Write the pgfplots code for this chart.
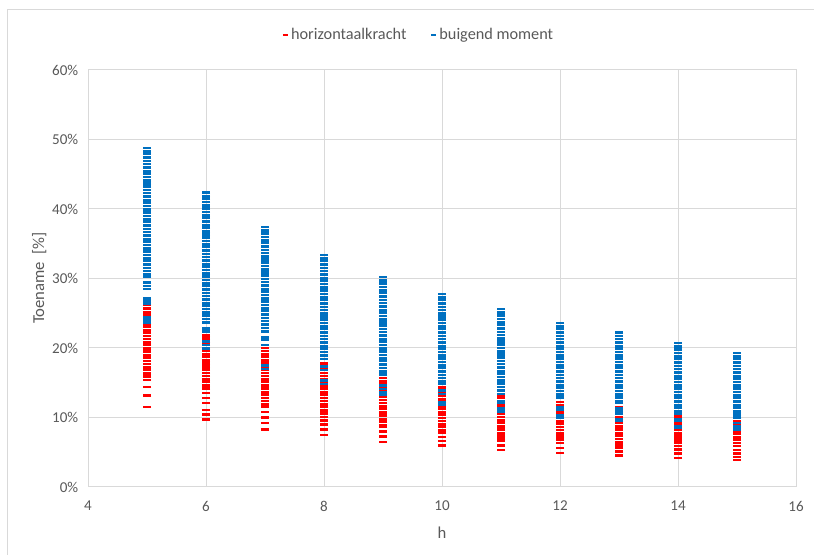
\documentclass[border=0pt]{standalone}
\usepackage{fontspec}
\setmainfont{Carlito}
\usepackage{pgfplots}
\pgfplotsset{compat=1.18}
\definecolor{txt}{HTML}{595959}
\definecolor{gridc}{HTML}{D9D9D9}
\definecolor{bl}{HTML}{0070C0}
\definecolor{rd}{HTML}{FF0000}
\begin{document}
\begin{tikzpicture}
\useasboundingbox (0,0) rectangle (610.5pt,416.25pt);
\draw[gridc, line width=0.75pt] (5.25pt,-10pt) -- (5.25pt,408.75pt) -- (620pt,408.75pt);
\begin{axis}[
  at={(66pt,51pt)}, anchor=south west, scale only axis,
  width=531pt, height=312.75pt,
  xmin=4, xmax=16, ymin=0, ymax=60,
  xtick={4,6,...,16}, ytick={0,10,...,60},
  yticklabel={\pgfmathprintnumber{\tick}\%},
  /pgf/number format/assume math mode=true,
  grid=major, grid style={gridc, line width=0.75pt},
  axis line style={gridc, line width=0.75pt},
  tick style={draw=none},
  ticklabel style={font=\fontsize{11.3}{13}\selectfont, text=txt},
  xticklabel style={yshift=-7pt},
  yticklabel style={xshift=-3.8pt},
  xlabel={h}, ylabel={Toename\ \ [\%]},
  label style={font=\fontsize{12.5}{14}\selectfont, text=txt},
  xlabel style={at={(axis description cs:0.5,-0.110)}, anchor=center},
  ylabel style={at={(axis description cs:-0.069,0.501)}, anchor=center},
  legend style={at={(axis description cs:0.4675,1.084)}, anchor=center,
    draw=none, fill=none, font=\fontsize{12.2}{14}\selectfont, text=txt,
    legend columns=2, /tikz/every even column/.append style={column sep=16pt}},
  legend image code/.code={\draw[#1, line width=0.9pt] (0pt,0pt) -- (3.8pt,0pt);},
]
\addplot[only marks, color=rd, mark=-, mark size=3pt, mark options={line width=1.9pt}] coordinates {
(5,26.2)(5,25.7)(5,25.2)(5,24.8)(5,23.5)(5,23.1)(5,22.6)(5,22.2)(5,21.7)(5,21.3)(5,20.8)(5,20.4)(5,19.9)(5,19.5)(5,19.0)(5,18.6)(5,18.1)(5,17.7)(5,17.2)(5,16.8)(5,16.3)(5,15.9)(5,15.4)(5,14.4)(5,13.2)(5,11.5)
(6,21.8)(6,21.4)(6,20.9)(6,20.5)(6,20.0)(6,19.6)(6,19.1)(6,18.7)(6,18.2)(6,17.8)(6,17.3)(6,16.9)(6,16.4)(6,16.0)(6,15.5)(6,15.1)(6,14.6)(6,14.2)(6,13.5)(6,12.8)(6,12.1)(6,11.1)(6,10.4)(6,9.7)
(7,20.0)(7,19.6)(7,19.1)(7,18.7)(7,18.2)(7,17.8)(7,17.3)(7,16.9)(7,16.4)(7,16.0)(7,15.5)(7,15.1)(7,14.6)(7,14.2)(7,13.7)(7,13.3)(7,12.8)(7,12.4)(7,11.9)(7,11.5)(7,10.8)(7,10.0)(7,9.2)(7,8.3)
(8,17.8)(8,17.4)(8,16.9)(8,16.4)(8,16.0)(8,15.5)(8,15.1)(8,14.6)(8,14.2)(8,13.7)(8,13.3)(8,12.8)(8,12.4)(8,11.9)(8,11.5)(8,11.0)(8,10.6)(8,10.1)(8,9.6)(8,9.0)(8,8.3)(8,7.5)
(9,16.1)(9,15.7)(9,15.2)(9,14.8)(9,14.3)(9,13.9)(9,13.4)(9,13.0)(9,12.5)(9,12.1)(9,11.6)(9,11.2)(9,10.7)(9,10.3)(9,9.8)(9,9.4)(9,8.9)(9,8.6)(9,8.0)(9,7.3)(9,6.5)
(10,14.4)(10,14.0)(10,13.5)(10,13.1)(10,12.6)(10,12.2)(10,11.7)(10,11.3)(10,10.8)(10,10.4)(10,9.9)(10,9.5)(10,9.0)(10,8.6)(10,8.1)(10,7.8)(10,7.2)(10,6.6)(10,6.0)
(11,13.2)(11,12.8)(11,12.3)(11,11.9)(11,11.4)(11,11.0)(11,10.5)(11,10.1)(11,9.6)(11,9.2)(11,8.7)(11,8.3)(11,7.8)(11,7.4)(11,7.0)(11,6.6)(11,6.0)(11,5.3)
(12,12.2)(12,11.8)(12,11.3)(12,10.9)(12,10.4)(12,10.0)(12,9.5)(12,9.1)(12,8.6)(12,8.2)(12,7.7)(12,7.3)(12,6.8)(12,6.3)(12,5.6)(12,4.9)
(13,11.4)(13,11.0)(13,10.5)(13,10.1)(13,9.6)(13,9.2)(13,8.7)(13,8.3)(13,7.8)(13,7.4)(13,6.9)(13,6.5)(13,6.1)(13,5.7)(13,5.1)(13,4.5)
(14,10.4)(14,10.0)(14,9.5)(14,9.1)(14,8.6)(14,8.2)(14,7.7)(14,7.3)(14,6.8)(14,6.4)(14,5.9)(14,5.4)(14,4.8)(14,4.2)
(15,9.9)(15,9.5)(15,9.0)(15,8.6)(15,8.1)(15,7.7)(15,7.2)(15,6.8)(15,6.3)(15,5.9)(15,5.3)(15,4.8)(15,4.3)(15,3.9)
};
\addlegendentry{horizontaalkracht}
\addplot[only marks, color=bl, mark=-, mark size=3pt, mark options={line width=1.9pt}] coordinates {
(5,48.8)(5,48.3)(5,47.9)(5,47.4)(5,46.9)(5,46.5)(5,46.0)(5,45.5)(5,45.1)(5,44.6)(5,44.1)(5,43.7)(5,43.2)(5,42.7)(5,42.3)(5,41.8)(5,41.3)(5,40.9)(5,40.4)(5,39.9)(5,39.5)(5,39.0)(5,38.5)(5,38.1)(5,37.6)(5,37.1)(5,36.7)(5,36.2)(5,35.7)(5,35.3)(5,34.8)(5,34.3)(5,33.9)(5,33.4)(5,32.9)(5,32.5)(5,32.0)(5,31.5)(5,31.1)(5,30.6)(5,30.2)(5,29.4)(5,28.9)(5,28.5)(5,27.1)(5,26.7)(5,26.3)(5,24.4)(5,24.0)(5,23.7)
(6,42.4)(6,41.9)(6,41.5)(6,41.0)(6,40.5)(6,40.1)(6,39.6)(6,39.1)(6,38.7)(6,38.2)(6,37.7)(6,37.3)(6,36.8)(6,36.3)(6,35.9)(6,35.4)(6,34.9)(6,34.5)(6,34.0)(6,33.5)(6,33.1)(6,32.6)(6,32.1)(6,31.7)(6,31.2)(6,30.7)(6,30.3)(6,29.8)(6,29.3)(6,28.9)(6,28.4)(6,27.9)(6,27.5)(6,27.0)(6,26.5)(6,26.1)(6,25.6)(6,25.1)(6,24.7)(6,24.2)(6,23.7)(6,22.8)(6,22.4)(6,20.9)(6,20.4)(6,19.9)
(7,37.4)(7,36.9)(7,36.5)(7,36.0)(7,35.5)(7,35.1)(7,34.6)(7,34.1)(7,33.7)(7,33.2)(7,32.7)(7,32.3)(7,31.8)(7,31.3)(7,30.9)(7,30.4)(7,29.9)(7,29.5)(7,29.0)(7,28.5)(7,28.1)(7,27.6)(7,27.1)(7,26.7)(7,26.2)(7,25.7)(7,25.3)(7,24.8)(7,24.3)(7,23.9)(7,23.4)(7,22.9)(7,22.4)(7,21.6)(7,21.2)(7,20.4)(7,17.5)(7,17.0)
(8,33.4)(8,32.9)(8,32.5)(8,32.0)(8,31.5)(8,31.1)(8,30.6)(8,30.1)(8,29.7)(8,29.2)(8,28.7)(8,28.3)(8,27.8)(8,27.3)(8,26.9)(8,26.4)(8,25.9)(8,25.5)(8,25.0)(8,24.5)(8,24.1)(8,23.6)(8,23.1)(8,22.7)(8,22.2)(8,21.7)(8,21.3)(8,20.8)(8,20.3)(8,19.9)(8,19.4)(8,18.9)(8,18.4)(8,17.3)(8,16.8)(8,15.3)(8,14.8)
(9,30.2)(9,29.7)(9,29.3)(9,28.8)(9,28.3)(9,27.9)(9,27.4)(9,26.9)(9,26.5)(9,26.0)(9,25.5)(9,25.1)(9,24.6)(9,24.1)(9,23.7)(9,23.2)(9,22.7)(9,22.3)(9,21.8)(9,21.3)(9,20.9)(9,20.4)(9,19.9)(9,19.5)(9,19.0)(9,18.5)(9,18.1)(9,17.6)(9,17.1)(9,16.6)(9,16.2)(9,14.6)(9,14.1)(9,13.6)(9,13.3)
(10,27.8)(10,27.3)(10,26.9)(10,26.4)(10,25.9)(10,25.5)(10,25.0)(10,24.5)(10,24.1)(10,23.6)(10,23.1)(10,22.7)(10,22.2)(10,21.7)(10,21.3)(10,20.8)(10,20.3)(10,19.9)(10,19.4)(10,18.9)(10,18.5)(10,18.0)(10,17.5)(10,17.1)(10,16.6)(10,16.1)(10,15.7)(10,15.2)(10,14.8)(10,13.9)(10,13.4)(10,12.2)(10,11.9)
(11,25.6)(11,25.1)(11,24.7)(11,24.2)(11,23.7)(11,23.3)(11,22.8)(11,22.3)(11,21.9)(11,21.4)(11,20.9)(11,20.5)(11,20.0)(11,19.5)(11,19.1)(11,18.6)(11,18.1)(11,17.7)(11,17.2)(11,16.7)(11,16.3)(11,15.8)(11,15.3)(11,14.9)(11,14.4)(11,13.9)(11,13.4)(11,12.4)(11,12.1)(11,11.3)(11,10.9)
(12,23.6)(12,23.1)(12,22.7)(12,22.2)(12,21.7)(12,21.3)(12,20.8)(12,20.3)(12,19.9)(12,19.4)(12,18.9)(12,18.5)(12,18.0)(12,17.5)(12,17.1)(12,16.6)(12,16.1)(12,15.7)(12,15.2)(12,14.7)(12,14.3)(12,13.8)(12,13.3)(12,12.9)(12,11.4)(12,11.1)(12,10.3)(12,10.0)
(13,22.2)(13,21.7)(13,21.3)(13,20.8)(13,20.3)(13,19.9)(13,19.4)(13,18.9)(13,18.5)(13,18.0)(13,17.5)(13,17.1)(13,16.6)(13,16.1)(13,15.7)(13,15.2)(13,14.7)(13,14.3)(13,13.8)(13,13.3)(13,12.9)(13,12.4)(13,12.1)(13,11.3)(13,10.9)(13,10.6)(13,9.8)(13,9.5)
(14,20.7)(14,20.2)(14,19.8)(14,19.3)(14,18.8)(14,18.4)(14,17.9)(14,17.4)(14,17.0)(14,16.5)(14,16.0)(14,15.6)(14,15.1)(14,14.6)(14,14.2)(14,13.7)(14,13.2)(14,12.8)(14,12.3)(14,11.8)(14,11.4)(14,10.9)(14,10.6)(14,9.8)(14,9.5)(14,8.8)(14,8.5)
(15,19.3)(15,18.8)(15,18.4)(15,17.9)(15,17.4)(15,17.0)(15,16.5)(15,16.0)(15,15.6)(15,15.1)(15,14.6)(15,14.2)(15,13.7)(15,13.2)(15,12.8)(15,12.3)(15,11.8)(15,11.4)(15,10.9)(15,10.4)(15,10.0)(15,9.2)(15,8.8)(15,8.5)(15,8.2)
};
\addlegendentry{buigend moment}
\end{axis}
\end{tikzpicture}
\end{document}
